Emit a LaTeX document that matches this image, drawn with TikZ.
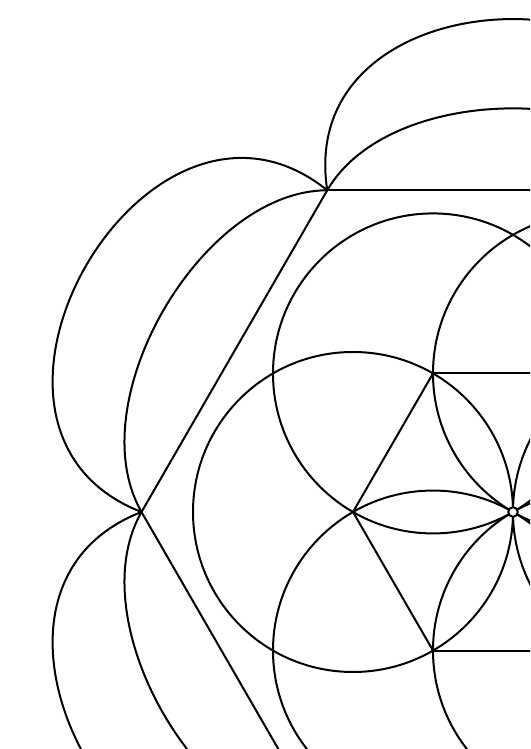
\documentclass[tikz,border=0pt]{standalone}
\begin{document}
\begin{tikzpicture}[x=1pt,y=1pt,
  pat/.style={draw=black,line width=2pt,line join=round}]
\useasboundingbox (0,0) rectangle (530,749);
\clip (0,0) rectangle (530,749);
\coordinate (C) at (513,237);
\begin{scope}[shift={(C)}]
  % six circles of the seed pattern
  \foreach \k in {0,...,5}{
    \draw[pat] (60*\k:160) circle (160);
  }
  \foreach \k in {0,...,5}{
    \begin{scope}[rotate=60*\k]
      \coordinate (P0) at (120:371.5);
      \coordinate (P1) at (60:371.5);
      \coordinate (Q0) at (120:160);
      \coordinate (Q1) at (60:160);
      % outer hexagon side
      \draw[pat] (P0) -- (P1);
      % inner hexagon side
      \draw[pat] (Q0) -- (Q1);
      % outer petal arc
      \draw[pat] (P0) .. controls (-221,550) and (221,550) .. (P1);
      % inner petal arc
      \draw[pat] (P0) .. controls (-122.4,430.9) and (122.4,430.9) .. (P1);
    \end{scope}
  }
  \draw[pat,fill=white] (0,0) circle (4.8);
\end{scope}
\end{tikzpicture}
\end{document}
